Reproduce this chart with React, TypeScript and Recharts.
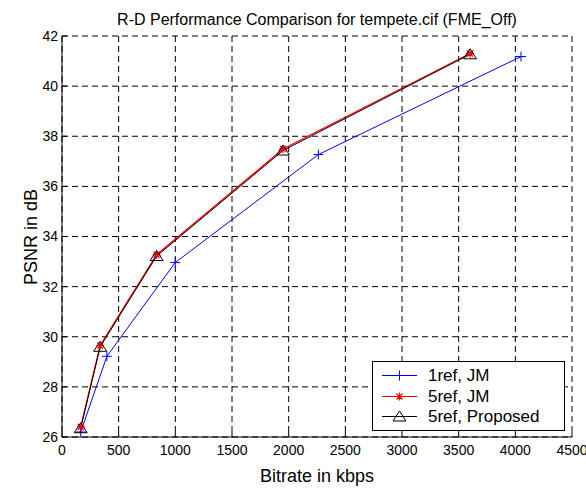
import React from 'react';
import { LineChart, Line, XAxis, YAxis, CartesianGrid } from 'recharts';

const bitrate1ref = [165, 396, 999, 2262, 4050];
const psnr1ref = [26.2, 29.22, 32.96, 37.27, 41.18];
const bitrate5ref = [165, 337, 835, 1950, 3600];
const psnr5refJM = [26.4, 29.65, 33.27, 37.49, 41.3];
const psnr5refProposed = [26.35, 29.6, 33.22, 37.43, 41.27];
const xTicks = [0, 500, 1000, 1500, 2000, 2500, 3000, 3500, 4000, 4500];
const yTicks = [26, 28, 30, 32, 34, 36, 38, 40, 42];
const seriesNames = ['1ref, JM', '5ref, JM', '5ref, Proposed'];
const titleText = 'R-D Performance Comparison for tempete.cif (FME_Off)';
const xLabelText = 'Bitrate in kbps';
const yLabelText = 'PSNR in dB';

const zip = (xs: number[], ys: number[]) => xs.map((x, i) => ({ x, y: ys[i] }));
const data1 = zip(bitrate1ref, psnr1ref);
const data2 = zip(bitrate5ref, psnr5refJM);
const data3 = zip(bitrate5ref, psnr5refProposed);

const FONT = '"Liberation Sans", Arial, Helvetica, sans-serif';
const BLUE = '#0000ff';
const RED = '#ff0000';
const BLACK = '#000000';

const Plus = ({ cx, cy, color }: any) => (
  <path d={`M${cx - 5},${cy}H${cx + 5}M${cx},${cy - 5}V${cy + 5}`} stroke={color} strokeWidth={1} fill="none" />
);
const Star = ({ cx, cy, color }: any) => (
  <path
    d={`M${cx - 4},${cy}H${cx + 4}M${cx},${cy - 4}V${cy + 4}M${cx - 3},${cy - 3}L${cx + 3},${cy + 3}M${cx - 3},${cy + 3}L${cx + 3},${cy - 3}`}
    stroke={color}
    strokeWidth={1.2}
    fill="none"
  />
);
const Tri = ({ cx, cy, color }: any) => (
  <path d={`M${cx},${cy - 5.5}L${cx + 6.5},${cy + 4.5}L${cx - 6.5},${cy + 4.5}Z`} stroke={color} strokeWidth={1} fill="none" />
);

const markers = [Plus, Star, Tri];
const colors = [BLUE, RED, BLACK];

const LegendBox = () => (
  <div
    style={{
      position: 'absolute',
      left: 372,
      top: 361,
      width: 193,
      height: 70,
      border: '1px solid #000',
      background: '#fff',
      boxSizing: 'border-box',
      fontFamily: FONT,
      fontSize: 17,
      color: '#000',
    }}
  >
    {seriesNames.map((name, i) => {
      const M = markers[i];
      return (
        <div
          key={name}
          style={{ position: 'absolute', left: 0, top: 3 + i * 20.6, height: 21, display: 'flex', alignItems: 'center' }}
        >
          <svg width={55} height={21} style={{ display: 'block' }}>
            <line x1={9} y1={10.5} x2={44} y2={10.5} stroke={colors[i]} strokeWidth={1} />
            <M cx={26.5} cy={10.5} color={colors[i]} />
          </svg>
          <span style={{ whiteSpace: 'nowrap', lineHeight: '21px' }}>{name}</span>
        </div>
      );
    })}
  </div>
);

export default function App() {
  return (
    <div style={{ position: 'absolute', left: 0, top: 0, width: 586, height: 491, background: '#fff', overflow: 'hidden' }}>
      <LineChart width={586} height={491} data={data1} margin={{ top: 35, right: 13, left: 0, bottom: 0 }}>
        <CartesianGrid stroke="#000" strokeDasharray="6 4" strokeWidth={1} xAxisId="b" yAxisId="l" />
        <XAxis
          xAxisId="b"
          dataKey="x"
          type="number"
          domain={[0, 4500]}
          ticks={xTicks}
          interval={0}
          height={54}
          tickSize={-5}
          tickMargin={13}
          axisLine={{ stroke: '#000', strokeWidth: 1 }}
          tickLine={{ stroke: '#000' }}
          tick={{ fill: '#000', fontSize: 14, fontFamily: FONT }}
          allowDataOverflow
        />
        <XAxis
          xAxisId="t"
          orientation="top"
          dataKey="x"
          type="number"
          domain={[0, 4500]}
          ticks={xTicks}
          interval={0}
          height={1}
          tickSize={-5}
          axisLine={false}
          tickLine={{ stroke: '#000' }}
          tick={false}
        />
        <YAxis
          yAxisId="l"
          type="number"
          domain={[26, 42]}
          ticks={yTicks}
          interval={0}
          width={62}
          tickSize={-5}
          tickMargin={9}
          axisLine={{ stroke: '#000', strokeWidth: 1 }}
          tickLine={{ stroke: '#000' }}
          tick={{ fill: '#000', fontSize: 14, fontFamily: FONT }}
        />
        <YAxis
          yAxisId="r"
          orientation="right"
          type="number"
          domain={[26, 42]}
          ticks={yTicks}
          interval={0}
          width={1}
          tickSize={-5}
          axisLine={false}
          tickLine={{ stroke: '#000' }}
          tick={false}
        />
        <Line
          xAxisId="b"
          yAxisId="l"
          data={data1}
          dataKey="y"
          name={seriesNames[0]}
          stroke={BLUE}
          strokeWidth={1}
          isAnimationActive={false}
          dot={(p: any) => <Plus key={`a${p.index}`} cx={p.cx} cy={p.cy} color={BLUE} />}
          activeDot={false}
        />
        <Line
          xAxisId="b"
          yAxisId="l"
          data={data2}
          dataKey="y"
          name={seriesNames[1]}
          stroke={RED}
          strokeWidth={1.3}
          isAnimationActive={false}
          dot={(p: any) => <Star key={`b${p.index}`} cx={p.cx} cy={p.cy} color={RED} />}
          activeDot={false}
        />
        <Line
          xAxisId="b"
          yAxisId="l"
          data={data3}
          dataKey="y"
          name={seriesNames[2]}
          stroke={BLACK}
          strokeWidth={1}
          isAnimationActive={false}
          dot={(p: any) => <Tri key={`c${p.index}`} cx={p.cx} cy={p.cy} color={BLACK} />}
          activeDot={false}
        />
      </LineChart>
      <div
        style={{
          position: 'absolute',
          left: 62,
          top: 11.5,
          width: 510,
          textAlign: 'center',
          fontFamily: FONT,
          fontSize: 16,
          lineHeight: '16px',
          color: '#000',
          whiteSpace: 'nowrap',
        }}
      >
        {titleText}
      </div>
      <div
        style={{
          position: 'absolute',
          left: 62,
          top: 466.5,
          width: 510,
          textAlign: 'center',
          fontFamily: FONT,
          fontSize: 18,
          lineHeight: '18px',
          color: '#000',
          whiteSpace: 'nowrap',
        }}
      >
        {xLabelText}
      </div>
      <div
        style={{
          position: 'absolute',
          left: 31 - 100,
          top: 237 - 10,
          width: 200,
          height: 20,
          textAlign: 'center',
          fontFamily: FONT,
          fontSize: 18,
          lineHeight: '20px',
          color: '#000',
          whiteSpace: 'nowrap',
          transform: 'rotate(-90deg)',
        }}
      >
        {yLabelText}
      </div>
      <LegendBox />
    </div>
  );
}
